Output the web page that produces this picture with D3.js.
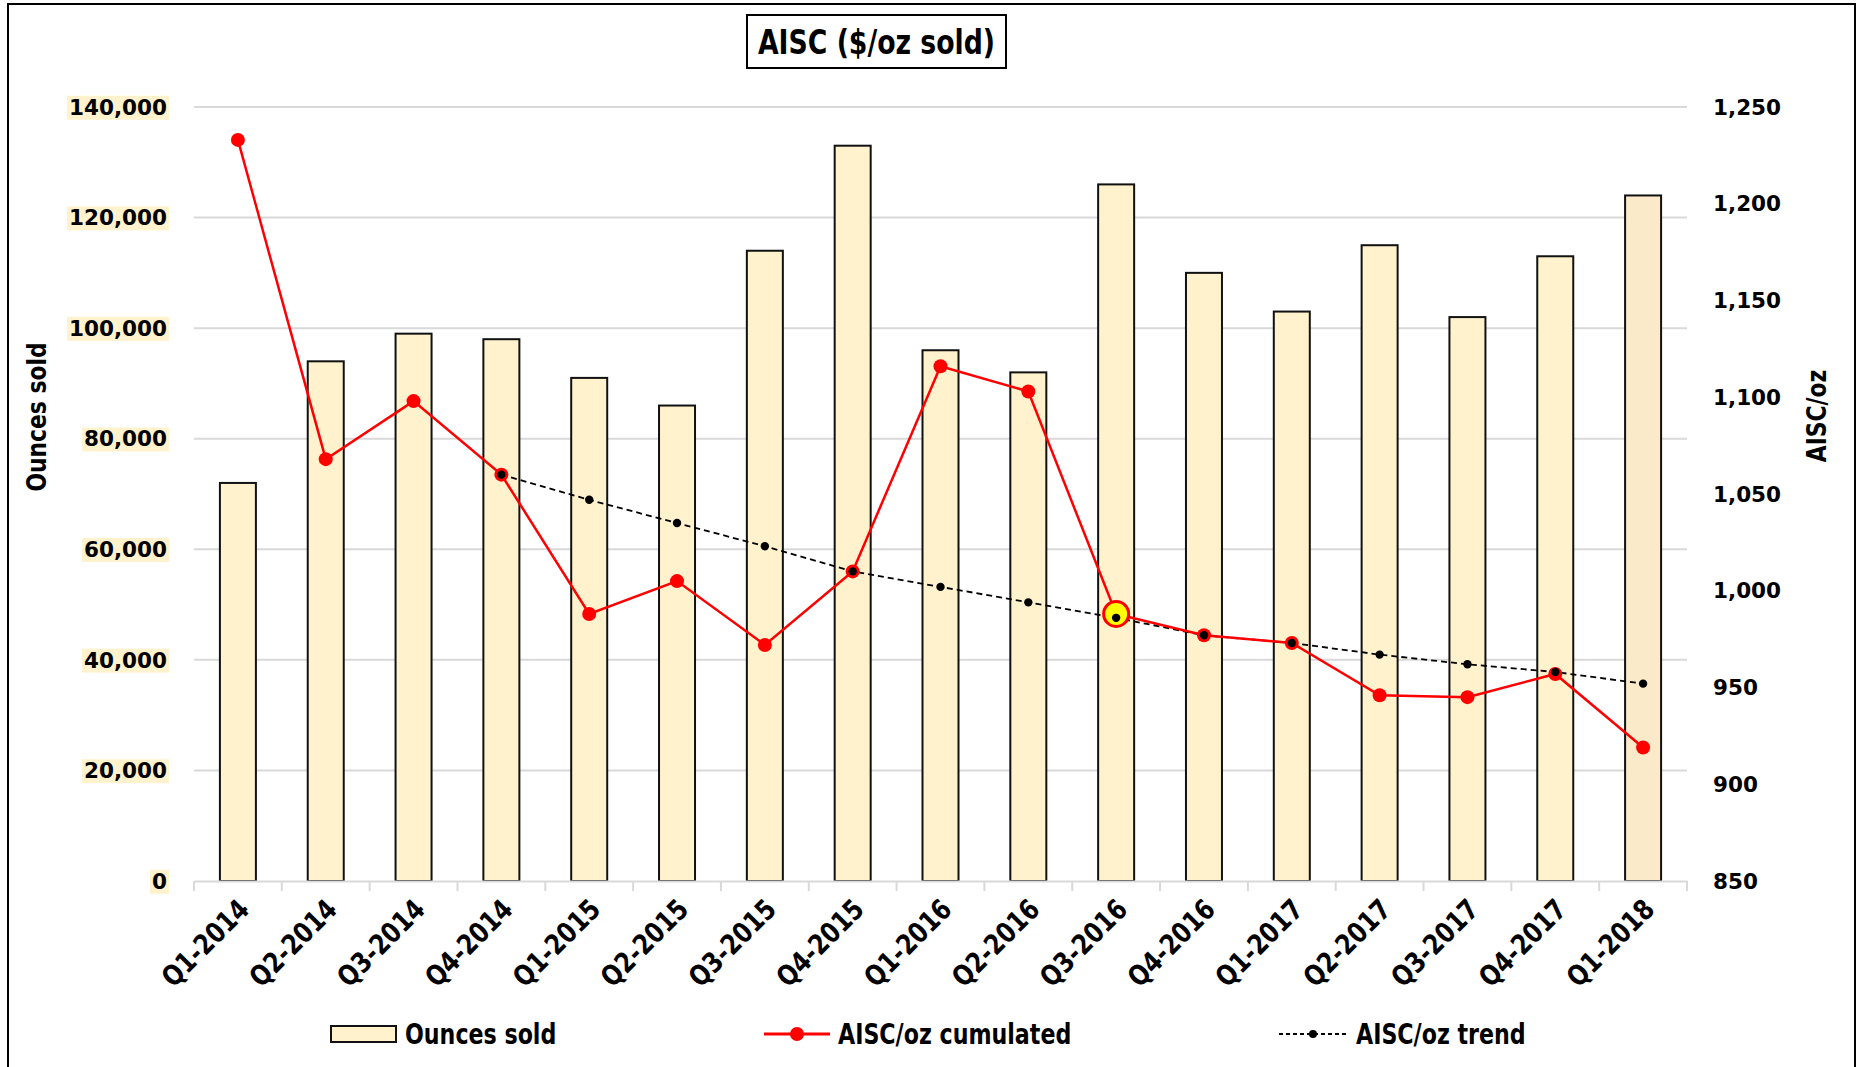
<!DOCTYPE html>
<html>
<head>
<meta charset="utf-8">
<script src="https://cdn.jsdelivr.net/npm/d3@7"></script>
<style>
  html, body { margin: 0; padding: 0; background: #fff; }
  svg { display: block; }
  .cond { font-family: "Liberation Sans Narrow", "DejaVu Sans Condensed", "Arial Narrow", sans-serif; font-weight: bold; }
  .wide { font-family: "DejaVu Sans", Verdana, sans-serif; font-weight: bold; }
</style>
</head>
<body>
<svg id="chart" width="1865" height="1067"></svg>
<script>
// Quarterly categories
const quarters = ["Q1-2014","Q2-2014","Q3-2014","Q4-2014","Q1-2015","Q2-2015","Q3-2015","Q4-2015",
                  "Q1-2016","Q2-2016","Q3-2016","Q4-2016","Q1-2017","Q2-2017","Q3-2017","Q4-2017","Q1-2018"];
// Ounces sold per quarter (left axis)
const ouncesSold = [72000, 94000, 99000, 98000, 91000, 86000, 114000, 133000,
                    96000, 92000, 126000, 110000, 103000, 115000, 102000, 113000, 124000];
// Cumulated AISC per ounce (right axis)
const aiscCumulated = [1233, 1068, 1098, 1060, 988, 1005, 972, 1010,
                       1116, 1103, 988, 977, 973, 946, 945, 957, 919];
// AISC trend from Q4-2014 onward (right axis)
const aiscTrend = [null, null, null, 1060, 1047, 1035, 1023, 1010,
                   1002, 994, 986, 977, 973, 967, 962, 958, 952];
// Axis ticks
const leftTicks = [0, 20000, 40000, 60000, 80000, 100000, 120000, 140000];
const rightTicks = [850, 900, 950, 1000, 1050, 1100, 1150, 1200, 1250];
const highlightQuarter = "Q3-2016";

const svg = d3.select("#chart");
const plot = { left: 194, right: 1687, top: 107, bottom: 881 };

const x = d3.scaleBand().domain(quarters).range([plot.left, plot.right]).paddingInner(0).paddingOuter(0);
const yL = d3.scaleLinear().domain([0, 140000]).range([plot.bottom, plot.top]);
const yR = d3.scaleLinear().domain([850, 1250]).range([plot.bottom, plot.top]);
const fmt = d3.format(",");

// Condensed text helper: narrows glyphs horizontally while keeping their height
function condText(parent, txt, xPos, yPos, size, anchor, sx) {
  const g = parent.append("g").attr("transform", `translate(${xPos},${yPos}) scale(${sx},1)`);
  g.append("text").attr("class", "cond").attr("font-size", size)
    .attr("dy", "0.36em").attr("text-anchor", anchor || "start").text(txt);
  return g;
}

// Outer frame
svg.append("rect").attr("x", 8).attr("y", 4).attr("width", 1847).attr("height", 1080)
  .attr("fill", "none").attr("stroke", "#000").attr("stroke-width", 2);

// Gridlines
svg.append("g").selectAll("line").data(leftTicks.slice(1)).join("line")
  .attr("x1", plot.left).attr("x2", plot.right)
  .attr("y1", d => yL(d)).attr("y2", d => yL(d))
  .attr("stroke", "#d9d9d9").attr("stroke-width", 2);

// Bars
const barW = 36;
svg.append("g").selectAll("rect").data(quarters).join("rect")
  .attr("x", (d) => x(d) + x.bandwidth() / 2 - barW / 2)
  .attr("y", (d, i) => yL(ouncesSold[i]))
  .attr("width", barW)
  .attr("height", (d, i) => yL(0) - yL(ouncesSold[i]))
  .attr("fill", (d, i) => i === quarters.length - 1 ? "#fbeaca" : "#fff2cc")
  .attr("stroke", "#111").attr("stroke-width", 2);

// Category axis
const xAxis = svg.append("g").attr("transform", `translate(0,${plot.bottom})`)
  .call(d3.axisBottom(x).tickSize(0).tickFormat(""));
xAxis.select(".domain").attr("stroke", "#d9d9d9").attr("stroke-width", 2);
const bounds = quarters.map(q => x(q)).concat([plot.right]);
svg.append("g").selectAll("line").data(bounds).join("line")
  .attr("x1", d => d).attr("x2", d => d)
  .attr("y1", plot.bottom).attr("y2", plot.bottom + 10)
  .attr("stroke", "#d9d9d9").attr("stroke-width", 2);

svg.append("g").selectAll("g").data(quarters).join("g")
  .attr("transform", d => `translate(${x(d) + x.bandwidth() / 2 + 13},${plot.bottom + 30}) rotate(-45) scale(0.92,1)`)
  .append("text")
  .attr("class", "cond")
  .attr("font-size", 28)
  .attr("text-anchor", "end")
  .text(d => d);

// Left tick labels with tinted background
const lt = svg.append("g");
leftTicks.forEach(v => {
  const g = lt.append("g");
  const t = g.append("text").attr("class", "wide").attr("font-size", 21.5)
    .attr("x", 167).attr("y", yL(v)).attr("dy", "0.36em").attr("text-anchor", "end")
    .text(fmt(v));
  const b = t.node().getBBox();
  g.insert("rect", "text").attr("x", b.x - 2).attr("y", b.y + 1).attr("width", b.width + 4).attr("height", b.height - 1)
    .attr("fill", "#fff2cc");
});

// Right tick labels
svg.append("g").selectAll("text").data(rightTicks).join("text")
  .attr("class", "wide").attr("font-size", 21.5)
  .attr("x", 1713).attr("y", d => yR(d)).attr("dy", "0.36em")
  .text(d => fmt(d));

// Axis titles
svg.append("g").attr("transform", `translate(36,417) rotate(-90) scale(0.9,1)`)
  .append("text").attr("class", "cond").attr("font-size", 27).attr("dy", "0.36em")
  .attr("text-anchor", "middle").text("Ounces  sold");
svg.append("g").attr("transform", `translate(1816,416) rotate(-90) scale(0.9,1)`)
  .append("text").attr("class", "cond").attr("font-size", 27).attr("dy", "0.36em")
  .attr("text-anchor", "middle").text("AISC/oz");

// Trend line (dashed)
const trendPts = quarters.map((q, i) => ({ q, v: aiscTrend[i] })).filter(d => d.v !== null);
const line = d3.line().x(d => x(d.q) + x.bandwidth() / 2).y(d => yR(d.v));
svg.append("path").datum(trendPts).attr("d", line)
  .attr("fill", "none").attr("stroke", "#000").attr("stroke-width", 1.8).attr("stroke-dasharray", "6,4");

// Cumulated AISC line
const cumPts = quarters.map((q, i) => ({ q, v: aiscCumulated[i] }));
svg.append("path").datum(cumPts).attr("d", line)
  .attr("fill", "none").attr("stroke", "#ff0000").attr("stroke-width", 2.5);
svg.append("g").selectAll("circle").data(cumPts).join("circle")
  .attr("cx", d => x(d.q) + x.bandwidth() / 2).attr("cy", d => yR(d.v))
  .attr("r", d => d.q === highlightQuarter ? 12.5 : 7)
  .attr("fill", d => d.q === highlightQuarter ? "#ffff00" : "#ff0000")
  .attr("stroke", "#ff0000").attr("stroke-width", d => d.q === highlightQuarter ? 3 : 0);

// Trend markers on top
svg.append("g").selectAll("circle").data(trendPts).join("circle")
  .attr("cx", d => x(d.q) + x.bandwidth() / 2).attr("cy", d => yR(d.v))
  .attr("r", 4.2).attr("fill", "#000");

// Title box
const title = svg.append("g");
title.append("rect").attr("x", 747).attr("y", 15).attr("width", 259).attr("height", 53)
  .attr("fill", "#fff").attr("stroke", "#000").attr("stroke-width", 2);
condText(title, "AISC ($/oz sold)", 876.5, 42, 33, "middle", 0.9);

// Legend
const lg = svg.append("g");
const ly = 1034;
lg.append("rect").attr("x", 331).attr("y", ly - 8).attr("width", 65).attr("height", 16)
  .attr("fill", "#fff2cc").attr("stroke", "#111").attr("stroke-width", 2);
condText(lg, "Ounces sold", 405, ly, 28, "start", 0.88);

lg.append("line").attr("x1", 764).attr("x2", 830).attr("y1", ly).attr("y2", ly).attr("stroke", "#ff0000").attr("stroke-width", 3);
lg.append("circle").attr("cx", 797).attr("cy", ly).attr("r", 7).attr("fill", "#ff0000");
condText(lg, "AISC/oz cumulated", 838, ly, 28, "start", 0.88);

lg.append("line").attr("x1", 1279).attr("x2", 1348).attr("y1", ly).attr("y2", ly).attr("stroke", "#000").attr("stroke-width", 1.8).attr("stroke-dasharray", "4,3");
lg.append("circle").attr("cx", 1313).attr("cy", ly).attr("r", 4).attr("fill", "#000");
condText(lg, "AISC/oz trend", 1356, ly, 28, "start", 0.88);
</script>
</body>
</html>
